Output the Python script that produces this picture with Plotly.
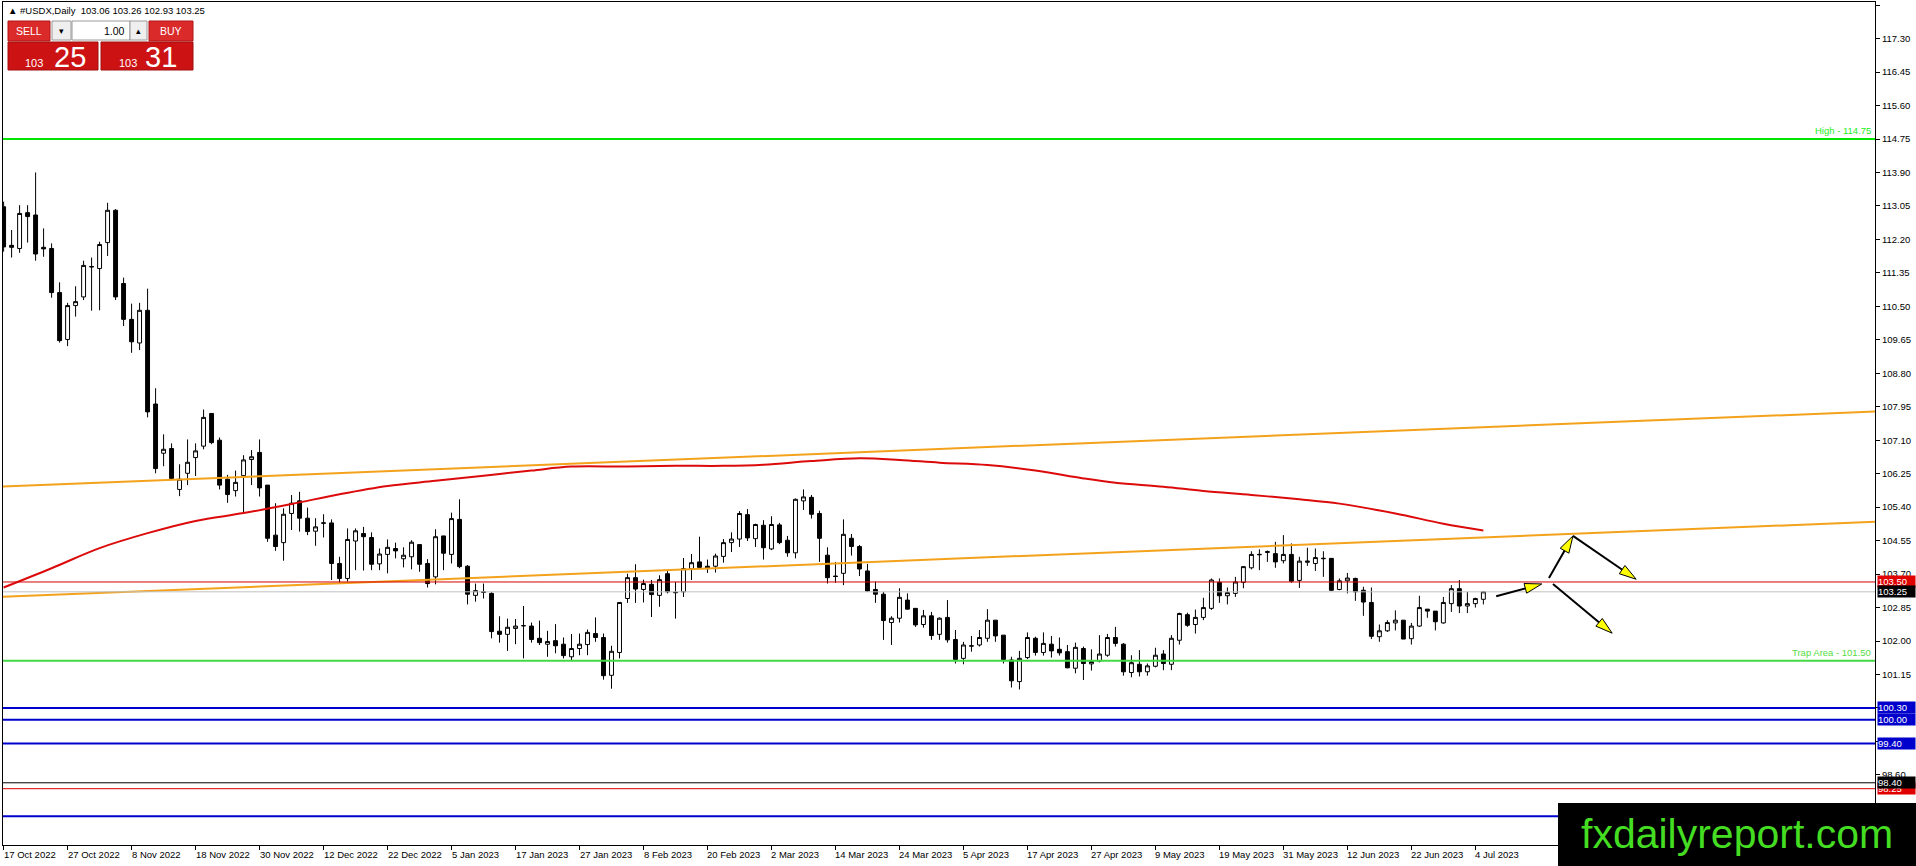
import math
import plotly.graph_objects as go

# daily candles, bar 0 = 17 Oct 2022, one bar per trading day
opens = [113.03, 112.05, 111.97, 112.88, 112.82, 112.00, 111.97, 110.85, 109.66, 110.52,
         110.74, 111.50, 111.46, 112.12, 112.94, 111.08, 110.17, 109.57, 110.40, 108.02,
         106.77, 106.89, 105.85, 106.26, 106.66, 106.95, 107.78, 107.10, 106.11, 105.82,
         106.20, 106.61, 106.79, 105.96, 104.69, 104.50, 105.24, 105.56, 105.12, 104.79,
         104.99, 105.00, 103.97, 103.59, 104.54, 104.73, 104.63, 103.96, 104.20, 104.35,
         104.09, 104.14, 104.45, 103.97, 103.63, 104.67, 104.20, 105.09, 103.90, 103.16,
         103.25, 103.21, 102.25, 102.17, 102.32, 102.39, 102.38, 102.07, 101.92, 102.01,
         101.92, 101.60, 101.81, 101.91, 102.19, 102.09, 101.13, 101.71, 103.08, 103.61,
         103.31, 103.44, 103.16, 103.71, 103.24, 103.25, 103.84, 104.01, 103.90, 103.90,
         104.15, 104.50, 104.59, 105.21, 104.60, 104.94, 104.34, 104.95, 104.56, 104.24,
         105.56, 105.65, 105.24, 104.18, 103.65, 103.72, 104.61, 104.40, 103.78, 103.31,
         103.19, 102.47, 102.58, 103.04, 102.83, 102.42, 102.64, 102.17, 102.60, 102.04,
         101.56, 101.87, 101.90, 102.07, 102.53, 102.15, 101.52, 100.97, 101.58, 102.07,
         101.71, 101.92, 101.79, 101.73, 101.31, 101.81, 101.42, 101.49, 101.64, 102.09,
         101.92, 101.20, 101.41, 101.22, 101.36, 101.67, 101.41, 102.02, 102.67, 102.42,
         102.60, 102.83, 103.49, 103.15, 103.21, 103.49, 103.86, 104.19, 104.25, 104.22,
         104.04, 104.20, 103.54, 104.00, 103.97, 104.09, 104.10, 103.31, 103.53, 103.59,
         103.29, 102.98, 102.11, 102.26, 102.46, 102.53, 102.06, 102.38, 102.81, 102.76,
         102.46, 102.95, 103.33, 102.89, 102.95, 103.06]
highs = [113.16, 112.44, 113.07, 113.07, 113.90, 112.48, 112.10, 111.11, 110.59, 111.01,
         111.66, 111.74, 112.14, 113.13, 112.97, 111.23, 110.57, 110.59, 110.95, 108.42,
         107.25, 107.02, 106.49, 107.12, 107.02, 107.88, 107.78, 107.17, 106.22, 106.33,
         106.72, 106.85, 107.12, 105.96, 105.50, 105.37, 105.71, 105.79, 105.39, 105.12,
         105.22, 105.09, 104.14, 104.86, 104.86, 104.90, 104.76, 104.35, 104.58, 104.50,
         104.38, 104.56, 104.45, 104.08, 104.84, 104.67, 105.26, 105.60, 103.93, 103.46,
         103.46, 103.24, 102.63, 102.57, 102.56, 102.89, 102.47, 102.52, 102.26, 102.43,
         102.09, 102.18, 102.19, 102.29, 102.60, 102.19, 101.88, 102.98, 103.71, 103.95,
         103.56, 103.55, 103.67, 103.80, 103.50, 104.11, 104.21, 104.65, 104.07, 104.22,
         104.59, 104.76, 105.30, 105.35, 104.98, 105.07, 105.17, 105.00, 104.67, 105.62,
         105.85, 105.71, 105.31, 104.38, 104.01, 105.09, 104.72, 104.44, 103.96, 103.51,
         103.25, 102.63, 103.34, 103.21, 102.83, 102.79, 102.74, 102.60, 103.04, 102.28,
         101.98, 102.13, 102.28, 102.81, 102.53, 102.15, 101.60, 101.75, 102.22, 102.11,
         102.22, 102.13, 102.09, 101.90, 101.96, 101.86, 101.79, 102.15, 102.18, 102.36,
         101.95, 101.64, 101.77, 101.43, 101.83, 101.77, 102.15, 102.72, 102.72, 102.80,
         103.10, 103.59, 103.59, 103.36, 103.63, 103.90, 104.28, 104.33, 104.30, 104.52,
         104.69, 104.48, 104.14, 104.37, 104.35, 104.28, 104.10, 103.59, 103.73, 103.61,
         103.38, 103.36, 102.42, 102.53, 102.78, 102.53, 102.46, 103.15, 102.81, 102.76,
         103.12, 103.42, 103.55, 103.25, 103.10, 103.26]
lows = [111.89, 111.74, 111.86, 112.12, 111.66, 111.76, 110.72, 109.58, 109.49, 110.24,
        110.66, 110.39, 110.40, 111.78, 110.66, 110.00, 109.32, 109.39, 107.68, 106.26,
        106.44, 106.09, 105.68, 105.96, 106.19, 106.87, 107.00, 105.85, 105.51, 105.67,
        105.24, 105.96, 105.67, 104.52, 104.29, 104.04, 104.82, 104.78, 104.69, 104.42,
        104.63, 103.55, 103.48, 103.51, 103.80, 103.79, 103.80, 103.80, 103.72, 104.10,
        103.87, 103.82, 103.76, 103.36, 103.44, 103.80, 103.97, 103.85, 102.93, 103.00,
        103.08, 102.07, 101.96, 101.75, 101.92, 101.56, 101.96, 101.90, 101.60, 101.69,
        101.56, 101.50, 101.64, 101.64, 101.98, 101.02, 100.79, 101.56, 102.97, 102.97,
        102.98, 102.61, 102.87, 103.21, 102.57, 103.12, 103.55, 103.84, 103.73, 103.74,
        103.99, 104.26, 104.39, 104.54, 104.39, 104.07, 104.31, 104.46, 104.14, 104.10,
        105.33, 105.11, 104.01, 103.46, 103.48, 103.42, 104.17, 103.65, 103.25, 102.97,
        102.03, 101.90, 102.47, 102.80, 102.36, 102.34, 102.03, 102.03, 101.96, 101.43,
        101.41, 101.73, 101.86, 101.98, 101.98, 101.43, 100.82, 100.77, 101.54, 101.63,
        101.63, 101.58, 101.63, 101.31, 101.18, 101.01, 101.25, 101.46, 101.60, 101.86,
        101.12, 101.08, 101.10, 101.12, 101.33, 101.26, 101.26, 101.91, 102.36, 102.19,
        102.53, 102.79, 102.97, 102.93, 103.12, 103.34, 103.82, 103.80, 104.01, 103.86,
        103.97, 103.48, 103.35, 103.91, 103.78, 103.63, 103.27, 103.29, 103.21, 103.02,
        102.64, 102.05, 101.98, 102.23, 102.27, 102.05, 101.91, 102.36, 102.59, 102.27,
        102.44, 102.74, 102.71, 102.71, 102.85, 102.93]
closes = [112.01, 112.00, 112.86, 112.78, 111.83, 111.96, 110.85, 109.63, 110.52, 110.62,
          111.54, 111.51, 112.07, 112.94, 110.74, 110.17, 109.60, 110.40, 107.82, 106.38,
          106.87, 106.13, 106.11, 106.54, 106.83, 107.68, 107.04, 105.96, 105.72, 106.03,
          106.60, 106.68, 105.89, 104.61, 104.40, 105.22, 105.50, 105.12, 104.78, 104.90,
          105.00, 103.97, 103.59, 104.58, 104.80, 104.65, 103.95, 104.21, 104.38, 104.29,
          104.18, 104.51, 103.95, 103.46, 104.65, 104.23, 105.11, 103.89, 103.19, 103.28,
          103.24, 102.24, 102.17, 102.35, 102.38, 102.39, 102.04, 101.96, 101.99, 101.88,
          101.63, 101.81, 101.92, 102.22, 102.09, 101.12, 101.74, 102.98, 103.61, 103.32,
          103.46, 103.18, 103.56, 103.25, 103.23, 103.84, 103.99, 103.87, 103.84, 104.16,
          104.50, 104.59, 105.24, 104.62, 104.96, 104.37, 104.96, 104.50, 104.24, 105.60,
          105.66, 105.22, 104.61, 103.61, 103.64, 104.71, 104.40, 103.83, 103.27, 103.19,
          102.52, 102.58, 103.11, 102.81, 102.41, 102.64, 102.14, 102.58, 102.03, 101.53,
          101.90, 101.88, 102.09, 102.53, 102.13, 101.53, 100.99, 101.56, 102.09, 101.71,
          101.94, 101.75, 101.70, 101.32, 101.84, 101.43, 101.48, 101.67, 102.09, 101.94,
          101.22, 101.45, 101.22, 101.37, 101.64, 101.43, 102.07, 102.70, 102.40, 102.60,
          102.85, 103.55, 103.15, 103.23, 103.50, 103.89, 104.20, 104.20, 104.27, 104.01,
          104.20, 103.52, 104.03, 104.03, 104.12, 104.10, 103.29, 103.53, 103.60, 103.25,
          102.99, 102.12, 102.26, 102.47, 102.53, 102.05, 102.38, 102.85, 102.76, 102.49,
          102.98, 103.33, 102.89, 102.95, 103.08, 103.25]
ask = 103.31

# date labels, one every 8 bars
date_labels = ["17 Oct 2022", "27 Oct 2022", "8 Nov 2022", "18 Nov 2022", "30 Nov 2022",
               "12 Dec 2022", "22 Dec 2022", "5 Jan 2023", "17 Jan 2023", "27 Jan 2023",
               "8 Feb 2023", "20 Feb 2023", "2 Mar 2023", "14 Mar 2023", "24 Mar 2023",
               "5 Apr 2023", "17 Apr 2023", "27 Apr 2023", "9 May 2023", "19 May 2023",
               "31 May 2023", "12 Jun 2023", "22 Jun 2023", "4 Jul 2023"]
label_step = 8

# moving average (bar index, value)
ma_bars = [0, 6, 12, 18, 24, 30, 36, 42, 48, 54, 60, 66, 71, 78, 84, 90, 95, 101, 107,
           112, 117, 123, 129, 135, 139, 145, 150, 156, 162, 167, 174, 180, 185]
ma_values = [103.36, 103.85, 104.36, 104.74, 105.05, 105.25, 105.48, 105.73, 105.94, 106.07,
             106.20, 106.33, 106.43, 106.43, 106.45, 106.45, 106.48, 106.57, 106.64, 106.60,
             106.53, 106.47, 106.33, 106.13, 106.02, 105.92, 105.81, 105.71, 105.60, 105.49,
             105.24, 104.98, 104.81]

# channel lines (bar index at the two chart edges, price)
channel_x = [-0.41, 233.96]
channel_upper = [105.92, 107.83]
channel_lower = [103.12, 105.03]

# horizontal levels: price, colour, width
levels = [(114.75, "#00e400", 2), (101.50, "#44d844", 2),
          (100.30, "#0000cc", 2), (100.00, "#0000cc", 2), (99.40, "#0000cc", 2),
          (97.55, "#0000cc", 2), (103.50, "#d40000", 1), (103.25, "#c0c0c0", 1),
          (98.40, "#000000", 1), (98.25, "#d40000", 1)]
price_tags = [(103.50, "#e00000"), (103.25, "#000000"), (100.30, "#0000cc"),
              (100.00, "#0000cc"), (99.40, "#0000cc"), (98.25, "#e00000"), (98.40, "#000000")]

# scenario arrows (bar, price) -> (bar, price)
arrows = [(186.6, 103.14, 192.3, 103.45),
          (193.2, 103.60, 196.2, 104.67),
          (196.2, 104.67, 204.1, 103.57),
          (193.7, 103.45, 201.1, 102.20)]

y_ticks = [118.15, 117.30, 116.45, 115.60, 114.75, 113.90, 113.05, 112.20, 111.35, 110.50,
           109.65, 108.80, 107.95, 107.10, 106.25, 105.40, 104.55, 103.70, 102.85, 102.00,
           101.15, 100.30, 99.45, 98.60, 97.75]
# labels that sit fully under a price tag or the watermark are left blank
hidden_ticks = [100.30, 99.45, 97.75]

W, H = 1916, 866
ML, MR, MT, MB = 3, 41, 2, 21
PX_BAR = 8.0
PX_PRICE = 39.38


def fx(px):
    return (px - ML) / (W - ML - MR)


def fy(py):
    return (H - MB - py) / (H - MT - MB)


FONT = "Liberation Sans"
bars = list(range(len(opens)))

fig = go.Figure()
fig.add_trace(go.Candlestick(
    x=bars, open=opens, high=highs, low=lows, close=closes,
    increasing=dict(line=dict(color="black", width=1), fillcolor="white"),
    decreasing=dict(line=dict(color="black", width=1), fillcolor="black"),
    whiskerwidth=0, hoverinfo="skip"))

fig.add_trace(go.Scatter(x=ma_bars, y=ma_values, mode="lines",
                         line=dict(color="#dc0a0a", width=2, shape="spline"), hoverinfo="skip"))
for ys in (channel_upper, channel_lower):
    fig.add_trace(go.Scatter(x=channel_x, y=ys, mode="lines",
                             line=dict(color="#f4a21c", width=2), hoverinfo="skip"))

shapes = []
for price, col, wd in levels:
    shapes.append(dict(type="line", xref="paper", yref="y", x0=0, x1=1, y0=price, y1=price,
                       line=dict(color=col, width=wd), layer="above"))

# arrows: black shaft + yellow head
for x0, y0, x1, y1 in arrows:
    dxp = (x1 - x0) * PX_BAR
    dyp = (y1 - y0) * PX_PRICE
    ln = math.hypot(dxp, dyp)
    ux, uy = dxp / ln, dyp / ln
    hl, hw = 17, 5
    bx, by = -ux * hl, -uy * hl
    nx, ny = -uy * hw, ux * hw
    shapes.append(dict(type="line", xref="x", yref="y", x0=x0, y0=y0,
                       x1=x1 + bx / PX_BAR * 0.6, y1=y1 + by / PX_PRICE * 0.6,
                       line=dict(color="black", width=2), layer="above"))
    pa = (x1 + (bx + nx) / PX_BAR, y1 + (by + ny) / PX_PRICE)
    pb = (x1 + (bx - nx) / PX_BAR, y1 + (by - ny) / PX_PRICE)
    path = f"M {x1},{y1} L {pa[0]},{pa[1]} L {pb[0]},{pb[1]} Z"
    shapes.append(dict(type="path", xref="x", yref="y", path=path, fillcolor="#ffff00",
                       line=dict(color="black", width=1), layer="above"))


def rect(x0, y0, x1, y1, fill, line="rgba(0,0,0,0)"):
    shapes.append(dict(type="rect", xref="paper", yref="paper", x0=fx(x0), x1=fx(x1),
                       y0=fy(y1), y1=fy(y0), fillcolor=fill, line=dict(color=line, width=1),
                       layer="above"))


# one-click trading panel
rect(8, 21, 50, 41, "#da2a2a", "#b01515")
rect(52, 21, 71, 40, "#efefef", "#9a9a9a")
rect(72, 21, 130, 40, "#ffffff", "#9a9a9a")
rect(130, 21, 147, 40, "#efefef", "#9a9a9a")
rect(149, 21, 193, 41, "#da2a2a", "#b01515")
rect(8, 42, 98, 70, "#cc1212", "#a00e0e")
rect(101, 42, 193, 70, "#cc1212", "#a00e0e")
# watermark box
rect(1558, 803, 1916, 866, "#000000")

ann = []


def text(px, py, s, size=9.5, color="black", xa="left", ya="middle", bg=None, **kw):
    d = dict(xref="paper", yref="paper", x=fx(px), y=fy(py), text=s, showarrow=False,
             xanchor=xa, yanchor=ya, font=dict(family=FONT, size=size, color=color))
    if bg:
        d["bgcolor"] = bg
    d.update(kw)
    ann.append(d)


header = "\u25b2 #USDX,Daily\u00a0\u00a0{:.2f} {:.2f} {:.2f} {:.2f}".format(
    opens[-1], highs[-1], lows[-1], closes[-1])
text(6, 11, header, size=9.5)
text(29, 31, "SELL", size=10.5, color="white", xa="center")
text(171, 31, "BUY", size=10.5, color="white", xa="center")
text(61.5, 31, "\u25be", size=9, xa="center")
text(138.5, 31, "\u25b4", size=9, xa="center")
text(127, 31, "1.00", size=10.5, xa="right")
bid_big, bid_small = f"{closes[-1]:.2f}".split(".")
ask_big, ask_small = f"{ask:.2f}".split(".")
text(45, 63, bid_big, size=11, color="white", xa="right")
text(52, 57, bid_small, size=29, color="white", xa="left")
text(139, 63, ask_big, size=11, color="white", xa="right")
text(143, 57, ask_small, size=29, color="white", xa="left")
text(1737, 834, "fxdailyreport.com", size=41, color="#44dd22", xa="center")

# level captions
ann.append(dict(xref="paper", yref="y", x=fx(1873), y=114.75, yshift=1, text="High - 114.75",
                showarrow=False, xanchor="right", yanchor="bottom",
                font=dict(family=FONT, size=9.5, color="#22ee22")))
ann.append(dict(xref="paper", yref="y", x=fx(1873), y=101.50, yshift=1,
                text="Trap Area - 101.50", showarrow=False, xanchor="right", yanchor="bottom",
                font=dict(family=FONT, size=9.5, color="#55dd44")))

# price tags on the right scale
for price, col in price_tags:
    ann.append(dict(xref="paper", yref="y", x=fx(1877), y=price, text=f"{price:.2f}",
                    showarrow=False, xanchor="left", yanchor="middle", align="left",
                    width=37, height=11, borderpad=0, bgcolor=col,
                    font=dict(family=FONT, size=9.5, color="white")))

# date labels start at their tick
for k, lab in enumerate(date_labels):
    ann.append(dict(xref="x", yref="paper", x=k * label_step, y=fy(847), xshift=-2,
                    text=lab, showarrow=False, xanchor="left", yanchor="top",
                    font=dict(family=FONT, size=9.5, color="black")))

fig.update_layout(
    width=W, height=H, margin=dict(l=ML, r=MR, t=MT, b=MB, pad=0),
    paper_bgcolor="white", plot_bgcolor="white", showlegend=False,
    font=dict(family=FONT, size=9.5, color="black"),
    shapes=shapes, annotations=ann, hovermode=False)
fig.update_xaxes(range=[-0.075, 233.96], showgrid=False, zeroline=False, showline=True,
                 mirror=True, linecolor="black", linewidth=1,
                 tickvals=[k * label_step for k in range(len(date_labels))],
                 ticks="outside", ticklen=4, tickcolor="black", showticklabels=False,
                 rangeslider=dict(visible=False))
fig.update_yaxes(side="right", range=[96.82, 118.23], showgrid=False, zeroline=False,
                 showline=True, mirror=True, linecolor="black", linewidth=1,
                 tickvals=y_ticks,
                 ticktext=["" if v in hidden_ticks else f"{v:.2f}" for v in y_ticks],
                 ticks="outside", ticklen=4, tickcolor="black")

fig.write_html("out.html", config={"displayModeBar": False},
               post_script="document.body.style.margin='0';document.body.style.overflow='hidden';")
